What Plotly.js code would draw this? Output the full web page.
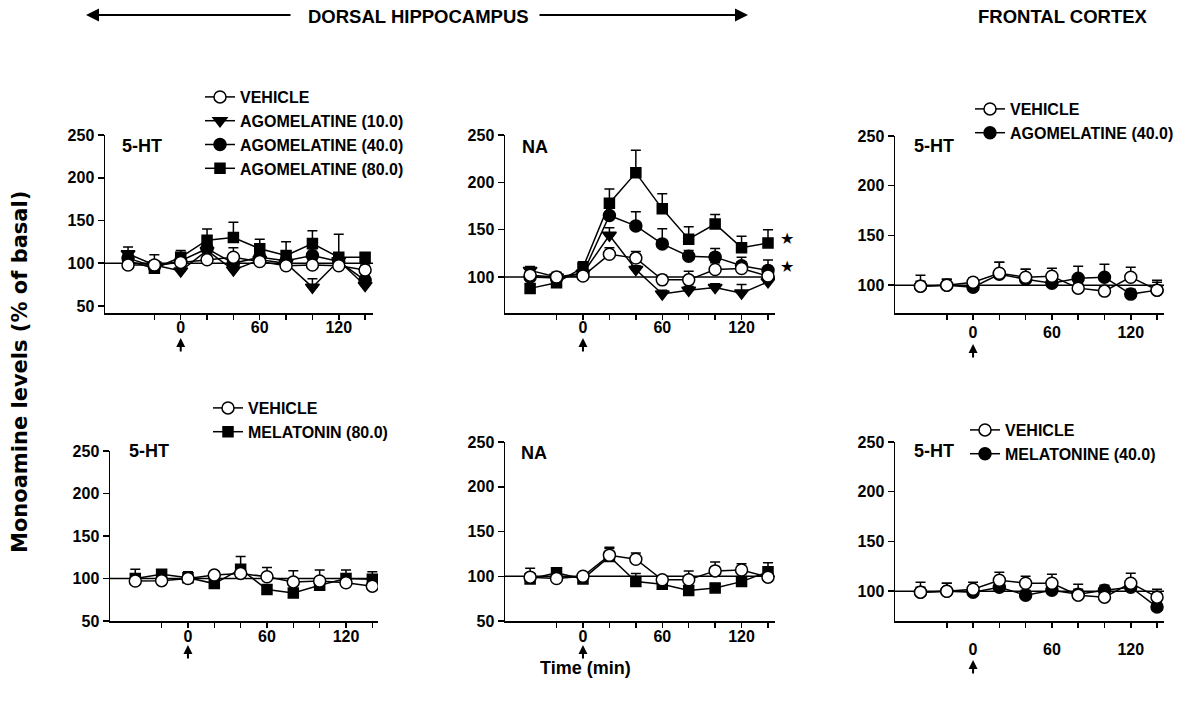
<!DOCTYPE html>
<html>
<head>
<meta charset="utf-8">
<script src="https://cdn.plot.ly/plotly-3.0.1.min.js"></script>
<style>html,body{margin:0;padding:0;background:#fff;}#chart{width:1191px;height:709px;}</style>
</head>
<body>
<div id="chart"></div>
<script>
// ---- data ----
const time = [-40, -20, 0, 20, 40, 60, 80, 100, 120, 140];
const xTickVals = [-20, 0, 20, 40, 60, 80, 100, 120, 140];
const xTickText = ['', '0', '', '', '60', '', '', '120', ''];
const yTickVals = [50, 100, 150, 200, 250];

// Panel 1: dorsal hippocampus 5-HT, agomelatine
const p1Vehicle = [98, 98, 101, 104, 107, 102, 97, 98, 97, 92];
const p1VehicleErr = [4, 12, 4, 5, 11, 5, 6, 6, 6, 6];
const p1Ago10 = [111, 98, 91, 115, 92, 104, 100, 72, 103, 74];
const p1Ago10Err = [8, 5, 5, 5, 5, 5, 5, 10, 5, 5];
const p1Ago40 = [106, 96, 103, 117, 100, 107, 103, 109, 102, 80];
const p1Ago40Err = [6, 6, 6, 8, 5, 8, 8, 8, 6, 5];
const p1Ago80 = [103, 94, 107, 127, 130, 117, 109, 123, 107, 107];
const p1Ago80Err = [6, 5, 8, 13, 18, 11, 16, 15, 27, 5];

// Panel 2: dorsal hippocampus NA, agomelatine
const p2Vehicle = [102, 100, 101, 124, 120, 97, 97, 108, 109, 101];
const p2VehicleErr = [5, 5, 5, 7, 7, 5, 9, 7, 7, 5];
const p2Ago10 = [107, 100, 104, 144, 108, 82, 86, 89, 83, 95];
const p2Ago10Err = [4, 4, 4, 8, 4, 4, 4, 4, 9, 4];
const p2Ago40 = [100, 99, 104, 165, 154, 135, 122, 121, 112, 107];
const p2Ago40Err = [5, 5, 5, 15, 15, 16, 6, 9, 9, 11];
const p2Ago80 = [88, 94, 110, 178, 210, 172, 140, 156, 131, 136];
const p2Ago80Err = [5, 5, 6, 15, 24, 16, 13, 10, 12, 14];

// Panel 3: frontal cortex 5-HT, agomelatine 40
const p3Vehicle = [99, 100, 103, 112, 108, 109, 97, 94, 108, 95];
const p3VehicleErr = [11, 6, 4, 11, 8, 8, 5, 5, 10, 8];
const p3Ago40 = [99, 100, 98, 111, 106, 102, 107, 108, 91, 95];
const p3Ago40Err = [5, 6, 4, 12, 10, 5, 12, 13, 5, 10];

// Panel 4: dorsal hippocampus 5-HT, melatonin 80
const p4Vehicle = [97, 97.5, 100, 104, 106, 102, 96, 97, 95, 91];
const p4VehicleErr = [14, 4, 5, 4, 5, 11, 13, 13, 5, 6];
const p4Mel80 = [100, 105, 101, 94, 111, 87, 83, 92, 100, 99];
const p4Mel80Err = [5, 3, 7, 4, 15, 5, 5, 5, 10, 9];

// Panel 5: dorsal hippocampus NA, melatonin 80
const p5Vehicle = [99, 97.5, 100, 123.5, 119, 96, 96, 106, 107, 99];
const p5VehicleErr = [10, 4, 4, 9, 7, 4, 10, 10, 7, 4];
const p5Mel80 = [97, 104, 97, 122, 94, 91, 84, 87, 94, 105];
const p5Mel80Err = [4, 3, 4, 9, 9, 4, 4, 4, 4, 10];

// Panel 6: frontal cortex 5-HT, melatonine 40
const p6Vehicle = [99, 100, 102, 111, 108, 108, 96, 94, 108, 94];
const p6VehicleErr = [10, 8, 7, 8, 7, 9, 11, 4, 10, 8];
const p6Mel40 = [99, 100, 99, 104, 96, 101, 97, 101, 104, 84];
const p6Mel40Err = [5, 8, 5, 5, 5, 5, 5, 5, 5, 5];

// ---- helpers ----
const W = 1191, H = 709;
const PX = p => p / W;
const PY = p => 1 - p / H;
const FONT = 'Liberation Sans, Arial, sans-serif';
const zeros = time.map(() => 0);

function series(name, y, err, symbol, filled, axisIdx, legend, rank, show) {
  const s = axisIdx === 1 ? '' : String(axisIdx);
  return {
    type: 'scatter', mode: 'lines+markers', name: name,
    x: time, y: y,
    xaxis: 'x' + s, yaxis: 'y' + s,
    line: {color: 'black', width: 1.5},
    marker: {symbol: symbol, size: symbol === 'square' ? 10 : 12,
             color: filled ? 'black' : 'white', line: {color: 'black', width: 1.5}},
    error_y: {type: 'data', symmetric: false, array: err, arrayminus: zeros,
              color: 'black', thickness: 1.5, width: 5},
    legend: legend, legendrank: rank, showlegend: show,
    hoverinfo: 'skip'
  };
}

const data = [
  series('AGOMELATINE (10.0)', p1Ago10, p1Ago10Err, 'triangle-down', true, 1, 'legend', 2, true),
  series('AGOMELATINE (40.0)', p1Ago40, p1Ago40Err, 'circle', true, 1, 'legend', 3, true),
  series('AGOMELATINE (80.0)', p1Ago80, p1Ago80Err, 'square', true, 1, 'legend', 4, true),
  series('VEHICLE', p1Vehicle, p1VehicleErr, 'circle', false, 1, 'legend', 1, true),

  series('AGOMELATINE (10.0)', p2Ago10, p2Ago10Err, 'triangle-down', true, 2, 'legend', 2, false),
  series('AGOMELATINE (40.0)', p2Ago40, p2Ago40Err, 'circle', true, 2, 'legend', 3, false),
  series('AGOMELATINE (80.0)', p2Ago80, p2Ago80Err, 'square', true, 2, 'legend', 4, false),
  series('VEHICLE', p2Vehicle, p2VehicleErr, 'circle', false, 2, 'legend', 1, false),

  series('AGOMELATINE (40.0)', p3Ago40, p3Ago40Err, 'circle', true, 3, 'legend2', 2, true),
  series('VEHICLE', p3Vehicle, p3VehicleErr, 'circle', false, 3, 'legend2', 1, true),

  series('MELATONIN (80.0)', p4Mel80, p4Mel80Err, 'square', true, 4, 'legend3', 2, true),
  series('VEHICLE', p4Vehicle, p4VehicleErr, 'circle', false, 4, 'legend3', 1, true),

  series('MELATONIN (80.0)', p5Mel80, p5Mel80Err, 'square', true, 5, 'legend3', 2, false),
  series('VEHICLE', p5Vehicle, p5VehicleErr, 'circle', false, 5, 'legend3', 1, false),

  series('MELATONINE (40.0)', p6Mel40, p6Mel40Err, 'circle', true, 6, 'legend4', 2, true),
  series('VEHICLE', p6Vehicle, p6VehicleErr, 'circle', false, 6, 'legend4', 1, true)
];

const tickFont = {family: FONT, size: 16, color: 'black', weight: 'bold'};
function xAxis(x0, x1, range, anchor, standoff) {
  return {domain: [PX(x0), PX(x1)], range: range, anchor: anchor,
          showline: true, linecolor: 'black', linewidth: 1.5, mirror: false,
          ticks: 'outside', ticklen: 5, tickwidth: 1.5, tickcolor: 'black',
          tickvals: xTickVals, ticktext: xTickText, tickfont: tickFont,
          ticklabelstandoff: standoff,
          showgrid: false, zeroline: false, fixedrange: true};
}
function yAxis(y0, y1, range, anchor) {
  return {domain: [PY(y1), PY(y0)], range: range, anchor: anchor,
          showline: true, linecolor: 'black', linewidth: 1.5,
          ticks: 'outside', ticklen: 6, tickwidth: 1.5, tickcolor: 'black',
          tickvals: yTickVals, tickfont: tickFont,
          showgrid: false, zeroline: false, fixedrange: true};
}

const legendFont = {family: FONT, size: 16, color: 'black', weight: 'bold'};
function legendAt(textX, row1Y) {
  return {x: PX(textX - 40), y: PY(row1Y - 16), xanchor: 'left', yanchor: 'top',
          bgcolor: 'rgba(0,0,0,0)', borderwidth: 0, font: legendFont,
          traceorder: 'normal', itemsizing: 'trace', tracegroupgap: 0};
}

const shapes = [];
['', '2', '3', '4', '5', '6'].forEach(s => {
  shapes.push({type: 'line', xref: 'x' + s + ' domain', yref: 'y' + s,
               x0: 0, x1: 1, y0: 100, y1: 100, line: {color: 'black', width: 1.5}, layer: 'below'});
});

function label(text, x, y, size, extra) {
  return Object.assign({text: text, xref: 'paper', yref: 'paper', x: PX(x), y: PY(y),
          showarrow: false, font: {family: FONT, size: size, color: 'black', weight: 'bold'},
          xanchor: 'center', yanchor: 'middle'}, extra || {});
}
// injection arrow under time 0 of each panel
function injArrow(axisIdx, headY) {
  const s = axisIdx === 1 ? '' : String(axisIdx);
  return {text: '', xref: 'x' + s, yref: 'paper', x: 0, y: PY(headY), ax: 0, ay: 15,
          showarrow: true, arrowhead: 2, arrowsize: 0.9, arrowwidth: 2, arrowcolor: 'black',
          standoff: 0, startstandoff: 0};
}

const annotations = [
  label('DORSAL HIPPOCAMPUS', 418, 17, 18.5),
  label('FRONTAL CORTEX', 1063, 17, 18.5),
  // arrows of the header
  {text: '', xref: 'paper', yref: 'paper', x: PX(86), y: PY(15), ax: 206, ay: 0,
   showarrow: true, arrowhead: 2, arrowsize: 1.3, arrowwidth: 2, arrowcolor: 'black', standoff: 0, startstandoff: 0},
  {text: '', xref: 'paper', yref: 'paper', x: PX(748), y: PY(15), ax: -210, ay: 0,
   showarrow: true, arrowhead: 2, arrowsize: 1.3, arrowwidth: 2, arrowcolor: 'black', standoff: 0, startstandoff: 0},
  // panel labels
  label('5-HT', 120, 146, 18, {xanchor: 'left'}),
  label('NA', 520, 147, 18, {xanchor: 'left'}),
  label('5-HT', 912, 146, 18, {xanchor: 'left'}),
  label('5-HT', 127, 451, 18, {xanchor: 'left'}),
  label('NA', 519, 453, 18, {xanchor: 'left'}),
  label('5-HT', 912, 451, 18, {xanchor: 'left'}),
  // stars
  {text: '★', xref: 'paper', yref: 'paper', x: PX(787), y: PY(239), showarrow: false,
   font: {family: 'DejaVu Sans', size: 16, color: 'black'}},
  {text: '★', xref: 'paper', yref: 'paper', x: PX(787), y: PY(266), showarrow: false,
   font: {family: 'DejaVu Sans', size: 16, color: 'black'}},
  // injection arrows
  injArrow(1, 338), injArrow(2, 338), injArrow(3, 344),
  injArrow(4, 645), injArrow(5, 645), injArrow(6, 660),
  // axis titles
  label('Monoamine levels (% of basal)', 20, 372, 21, {textangle: -90,
        font: {family: 'DejaVu Sans', size: 21, color: 'black', weight: 'bold'}}),
  label('Time (min)', 585, 668, 18)
];

const layout = {
  width: W, height: H,
  margin: {l: 0, r: 0, t: 0, b: 0},
  paper_bgcolor: 'white', plot_bgcolor: 'rgba(0,0,0,0)',
  xaxis: xAxis(105, 373, [-57.5, 146], 'y', -6),
  yaxis: yAxis(135, 313, [41.8, 250], 'x'),
  xaxis2: xAxis(505, 775, [-59, 145.3], 'y2', -6),
  yaxis2: yAxis(135, 313, [62, 250], 'x2'),
  xaxis3: xAxis(895, 1164, [-59.4, 145.3], 'y3', -1),
  yaxis3: yAxis(136, 313, [72, 250], 'x3'),
  xaxis4: xAxis(110, 378, [-59.2, 144.3], 'y4', -5),
  yaxis4: yAxis(451, 621, [50, 250], 'x4'),
  xaxis5: xAxis(505, 775, [-59, 145.3], 'y5', -5),
  yaxis5: yAxis(442, 621, [50, 250], 'x5'),
  xaxis6: xAxis(895, 1164, [-59.4, 145.3], 'y6', 8),
  yaxis6: yAxis(442, 621, [70, 250], 'x6'),
  legend: legendAt(240, 96),
  legend2: legendAt(1010, 108),
  legend3: legendAt(248, 407),
  legend4: legendAt(1005, 429),
  shapes: shapes,
  annotations: annotations,
  showlegend: true
};

Plotly.newPlot('chart', data, layout, {displayModeBar: false, staticPlot: true});
</script>
</body>
</html>
